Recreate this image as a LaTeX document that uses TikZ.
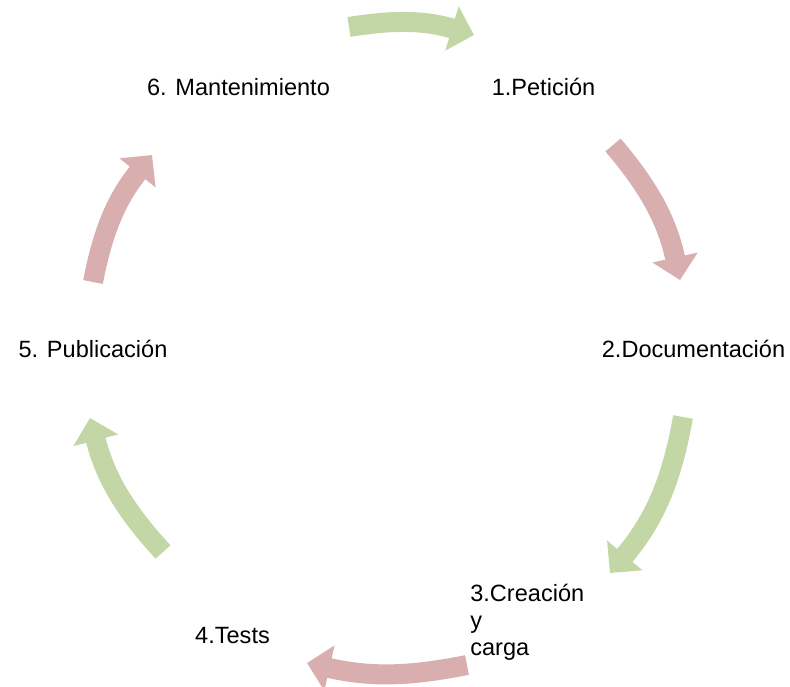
\documentclass[tikz,border=0pt]{standalone}
\usepackage{fontspec}
\setmainfont{Liberation Sans}
\usepackage{tikz}
\usetikzlibrary{arrows.meta}

\definecolor{cyclegreen}{RGB}{195,214,166}
\definecolor{cyclepink}{RGB}{217,174,175}

\begin{document}
\begin{tikzpicture}[x=0.02cm, y=-0.02cm]
            \useasboundingbox (0,0) rectangle (790,686);

            \begin{scope}[every node/.style={inner sep=0, anchor=base, font=\fontsize{13.4}{15.1}\selectfont}]
                \node (1) at (543.5,95) {1.Petición};
                \node (2) at (693.5,357) {2.Documentación};
                \node (3) [anchor=base west, align=left] at (470,655) {3.Creación\\y\\carga};
                \node (4) at (232.5,643) {4.Tests};
                \node (5) at (93,357) {5. Publicación};
                \node (6) at (238.5,95) {6. Mantenimiento};
            \end{scope}

            \coordinate (tail1) at (349,27);
            \coordinate (tip1) at (474,35);
            \coordinate (tail2) at (613,145);
            \coordinate (tip2) at (680,280);
            \coordinate (tail3) at (683,417);
            \coordinate (tip3) at (610,573);
            \coordinate (tail4) at (467,665);
            \coordinate (tip4) at (307,663);
            \coordinate (tail5) at (163,552);
            \coordinate (tip5) at (90,418);
            \coordinate (tail6) at (93,282);
            \coordinate (tip6) at (152,155);

            \begin{scope}[every edge/.style={draw, line width=0.4cm, -{Triangle[width=0.9cm, length=0.46cm]}}]
                \path (tail1) edge [cyclegreen, bend left=13] (tip1);
                \path (tail2) edge [cyclepink, bend left=14] (tip2);
                \path (tail3) edge [cyclegreen, bend left=15] (tip3);
                \path (tail4) edge [cyclepink, bend left=12] (tip4);
                \path (tail5) edge [cyclegreen, bend left=14] (tip5);
                \path (tail6) edge [cyclepink, bend left=14] (tip6);
            \end{scope}
        \end{tikzpicture}
\end{document}
